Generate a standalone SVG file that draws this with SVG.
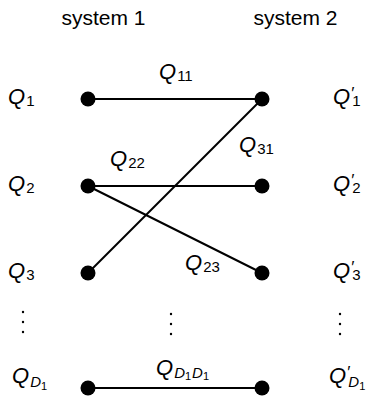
<svg xmlns="http://www.w3.org/2000/svg" width="367" height="399" viewBox="0 0 367 399">
<style>
.t{font-family:"Liberation Sans","DejaVu Sans",sans-serif;font-size:21px;fill:#000}
.i{font-size:22px;font-style:italic}
.s{font-size:15px;font-style:normal}
.si{font-size:15px;font-style:italic}
.ss{font-size:11px;font-style:normal}
.p{font-size:17px;font-style:normal}
.e{stroke:#000;stroke-width:2;fill:none}
.d{fill:#000}
</style>
<rect width="367" height="399" fill="#fff"/>
<g id="headers">
<text class="t" x="103.5" y="25" text-anchor="middle">system 1</text>
<text class="t" x="295.5" y="25" text-anchor="middle">system 2</text>
</g>
<g id="connectors">
<line class="e" x1="88" y1="99" x2="262" y2="99"/>
<line class="e" x1="88" y1="186" x2="262" y2="186"/>
<line class="e" x1="88" y1="186" x2="262" y2="273"/>
<line class="e" x1="88" y1="273" x2="262" y2="99"/>
<line class="e" x1="88" y1="388" x2="262" y2="388"/>
</g>
<g id="edge-labels">
<text class="t i" x="159" y="79">Q<tspan class="s" dx="1" dy="2">11</tspan></text>
<text class="t i" x="239" y="152">Q<tspan class="s" dx="1" dy="2">31</tspan></text>
<text class="t i" x="110" y="166">Q<tspan class="s" dx="1" dy="2">22</tspan></text>
<text class="t i" x="185" y="270">Q<tspan class="s" dx="1" dy="2">23</tspan></text>
<text class="t i" x="156" y="375">Q<tspan class="si" dx="1" dy="3">D</tspan><tspan class="ss" dy="2">1</tspan><tspan class="si" dx="1" dy="-2">D</tspan><tspan class="ss" dy="2">1</tspan></text>
</g>
<g id="left-nodes">
<g id="L1"><circle class="d" cx="88" cy="99" r="7.5"/><text class="t i" x="8" y="104">Q<tspan class="s" dx="1" dy="2">1</tspan></text></g>
<g id="L2"><circle class="d" cx="88" cy="186" r="7.5"/><text class="t i" x="8" y="191">Q<tspan class="s" dx="1" dy="2">2</tspan></text></g>
<g id="L3"><circle class="d" cx="88" cy="273" r="7.5"/><text class="t i" x="8" y="278">Q<tspan class="s" dx="1" dy="2">3</tspan></text></g>
<g id="LD"><circle class="d" cx="88" cy="388" r="7.5"/><text class="t i" x="12" y="383">Q<tspan class="si" dx="1" dy="4">D</tspan><tspan class="ss" dy="3">1</tspan></text></g>
</g>
<g id="right-nodes">
<g id="R1"><circle class="d" cx="262" cy="99" r="7.5"/><text class="t i" x="333" y="104">Q<tspan class="p" dx="1" dy="-5">′</tspan><tspan class="s" dx="-2" dy="7">1</tspan></text></g>
<g id="R2"><circle class="d" cx="262" cy="186" r="7.5"/><text class="t i" x="333" y="191">Q<tspan class="p" dx="1" dy="-5">′</tspan><tspan class="s" dx="-2" dy="7">2</tspan></text></g>
<g id="R3"><circle class="d" cx="262" cy="273" r="7.5"/><text class="t i" x="333" y="278">Q<tspan class="p" dx="1" dy="-5">′</tspan><tspan class="s" dx="-2" dy="7">3</tspan></text></g>
<g id="RD"><circle class="d" cx="262" cy="388" r="7.5"/><text class="t i" x="329" y="383">Q<tspan class="p" dx="1" dy="-5">′</tspan><tspan class="si" dx="-2" dy="9">D</tspan><tspan class="ss" dy="3">1</tspan></text></g>
</g>
<g id="ellipses">
<circle class="d" cx="23" cy="312" r="1.2"/><circle class="d" cx="23" cy="322" r="1.2"/><circle class="d" cx="23" cy="332" r="1.2"/>
<circle class="d" cx="171" cy="314" r="1.2"/><circle class="d" cx="171" cy="324" r="1.2"/><circle class="d" cx="171" cy="334" r="1.2"/>
<circle class="d" cx="340" cy="314" r="1.2"/><circle class="d" cx="340" cy="324" r="1.2"/><circle class="d" cx="340" cy="334" r="1.2"/>
</g>
</svg>
